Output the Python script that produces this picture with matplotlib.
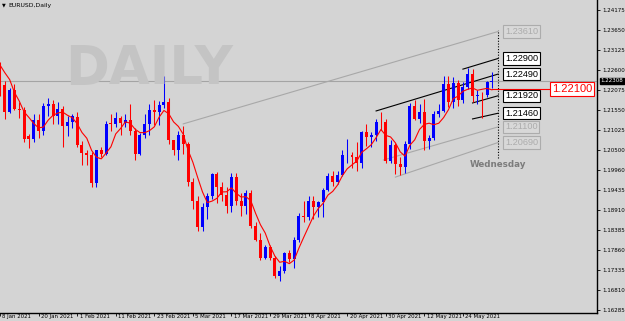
import matplotlib
matplotlib.use("Agg")
import matplotlib.pyplot as plt
from matplotlib.transforms import ScaledTranslation
import numpy as np

# ---------------- data ----------------
# bar index 0 = 8 Jan 2021 ; indices -4..-1 are 4-7 Jan (off-screen, used for the MA)
opens = [1.2246, 1.2250, 1.2297, 1.2326,
         1.2270, 1.2220, 1.2150, 1.2207, 1.2157, 1.2155, 1.2085, 1.2077, 1.2128, 1.2100,
         1.2165, 1.2170, 1.2140, 1.2158, 1.2112, 1.2123, 1.2135, 1.2062, 1.2042, 1.2036,
         1.1963, 1.2049, 1.2040, 1.2120, 1.2118, 1.2133, 1.2120, 1.2128, 1.2100, 1.2040,
         1.2088, 1.2118, 1.2155, 1.2150, 1.2168, 1.2175, 1.2075, 1.2048, 1.2090, 1.2066,
         1.1966, 1.1915, 1.1847, 1.1900, 1.1927, 1.1986, 1.1952, 1.1930, 1.1902, 1.1978,
         1.1915, 1.1903, 1.1935, 1.1850, 1.1812, 1.1765, 1.1793, 1.1765, 1.1717, 1.1730,
         1.1778, 1.1762, 1.1812, 1.1876, 1.1872, 1.1916, 1.1900, 1.1912, 1.1945, 1.1980,
         1.1965, 1.1983, 1.2035, 1.2036, 1.2032, 1.2015, 1.2097, 1.2083, 1.2090, 1.2124,
         1.2122, 1.2020, 1.2062, 1.2013, 1.2005, 1.2065, 1.2165, 1.2132, 1.2150, 1.2072,
         1.2080, 1.2145, 1.2152, 1.2224, 1.2175, 1.2225, 1.2180, 1.2215, 1.2250, 1.2192,
         1.2195, 1.2193, 1.2227]
highs = [1.2310, 1.2300, 1.2349, 1.2340,
         1.2280, 1.2230, 1.2213, 1.2222, 1.2175, 1.2162, 1.2092, 1.2145, 1.2145, 1.2172,
         1.2186, 1.2180, 1.2176, 1.2166, 1.2138, 1.2145, 1.2150, 1.2074, 1.2050, 1.2045,
         1.2050, 1.2058, 1.2125, 1.2145, 1.2150, 1.2140, 1.2145, 1.2170, 1.2108, 1.2095,
         1.2145, 1.2170, 1.2180, 1.2178, 1.2243, 1.2185, 1.2076, 1.2100, 1.2113, 1.2070,
         1.1975, 1.1928, 1.1910, 1.1935, 1.1990, 1.1991, 1.1965, 1.1952, 1.1988, 1.1990,
         1.1935, 1.1945, 1.1945, 1.1860, 1.1830, 1.1800, 1.1800, 1.1770, 1.1745, 1.1782,
         1.1785, 1.1820, 1.1883, 1.1914, 1.1928, 1.1928, 1.1915, 1.1950, 1.1990, 1.1995,
         1.1995, 1.2048, 1.2079, 1.2045, 1.2070, 1.2100, 1.2117, 1.2096, 1.2130, 1.2150,
         1.2130, 1.2076, 1.2068, 1.2030, 1.2072, 1.2173, 1.2181, 1.2170, 1.2183, 1.2090,
         1.2153, 1.2170, 1.2245, 1.2245, 1.2240, 1.2233, 1.2229, 1.2266, 1.2262, 1.2208,
         1.2203, 1.2230, 1.2254]
lows = [1.2244, 1.2231, 1.2265, 1.2250,
        1.2192, 1.2132, 1.2146, 1.2154, 1.2133, 1.2071, 1.2054, 1.2070, 1.2080, 1.2090,
        1.2140, 1.2118, 1.2118, 1.2058, 1.2085, 1.2108, 1.2058, 1.2010, 1.2010, 1.1952,
        1.1952, 1.2030, 1.2035, 1.2100, 1.2110, 1.2090, 1.2110, 1.2090, 1.2023, 1.2037,
        1.2080, 1.2090, 1.2115, 1.2115, 1.2160, 1.2065, 1.2037, 1.2024, 1.2040, 1.1955,
        1.1893, 1.1835, 1.1836, 1.1868, 1.1920, 1.1910, 1.1915, 1.1883, 1.1885, 1.1905,
        1.1875, 1.1882, 1.1845, 1.1810, 1.1761, 1.1762, 1.1760, 1.1712, 1.1704, 1.1725,
        1.1755, 1.1740, 1.1808, 1.1860, 1.1866, 1.1868, 1.1872, 1.1872, 1.1942, 1.1955,
        1.1960, 1.1980, 1.2016, 1.2001, 1.1995, 1.2003, 1.2060, 1.2056, 1.2072, 1.2102,
        1.2016, 1.2016, 1.1986, 1.1984, 1.1990, 1.2052, 1.2128, 1.2120, 1.2050, 1.2051,
        1.2076, 1.2137, 1.2150, 1.2162, 1.2161, 1.2165, 1.2173, 1.2210, 1.2175, 1.2170,
        1.2133, 1.2190, 1.2213]
closes = [1.2250, 1.2297, 1.2326, 1.2270,
          1.2220, 1.2150, 1.2207, 1.2157, 1.2155, 1.2078, 1.2077, 1.2128, 1.2100, 1.2165,
          1.2170, 1.2140, 1.2158, 1.2112, 1.2123, 1.2138, 1.2062, 1.2042, 1.2036, 1.1963,
          1.2049, 1.2040, 1.2118, 1.2118, 1.2133, 1.2120, 1.2128, 1.2100, 1.2040, 1.2088,
          1.2118, 1.2155, 1.2150, 1.2168, 1.2175, 1.2075, 1.2048, 1.2090, 1.2066, 1.1966,
          1.1915, 1.1847, 1.1900, 1.1927, 1.1986, 1.1952, 1.1930, 1.1902, 1.1978, 1.1915,
          1.1903, 1.1935, 1.1850, 1.1812, 1.1765, 1.1793, 1.1765, 1.1717, 1.1730, 1.1778,
          1.1762, 1.1812, 1.1876, 1.1872, 1.1916, 1.1900, 1.1912, 1.1945, 1.1980, 1.1965,
          1.1983, 1.2035, 1.2036, 1.2032, 1.2015, 1.2097, 1.2083, 1.2090, 1.2124, 1.2122,
          1.2020, 1.2062, 1.2013, 1.2005, 1.2065, 1.2165, 1.2132, 1.2150, 1.2072, 1.2080,
          1.2145, 1.2152, 1.2224, 1.2175, 1.2225, 1.2180, 1.2215, 1.2250, 1.2192, 1.2195,
          1.2193, 1.2227, 1.2231]
first_index = -4
ma_period = 5

date_ticks = [0, 8, 16, 24, 32, 40, 48, 56, 64, 72, 80, 88, 96]
date_labels = ["8 Jan 2021", "20 Jan 2021", "1 Feb 2021", "11 Feb 2021", "23 Feb 2021",
               "5 Mar 2021", "17 Mar 2021", "29 Mar 2021", "8 Apr 2021", "20 Apr 2021",
               "30 Apr 2021", "12 May 2021", "24 May 2021"]
price_ticks = [1.24175, 1.23650, 1.23125, 1.22600, 1.22075, 1.21550, 1.21025, 1.20500,
               1.19960, 1.19435, 1.18910, 1.18385, 1.17860, 1.17335, 1.16810, 1.16285]
current_price = 1.22308

# trend lines: start index, start price, end index, end price, colour
tl_x0 = [38, 96, 78, 98, 98, 79.5, 82]
tl_y0 = [1.2118, 1.2262, 1.2152, 1.2173, 1.2131, 1.2023, 1.1978]
tl_x1 = [103.3, 103.3, 103.3, 103.3, 103.3, 103.3, 103.3]
tl_y1 = [1.2361, 1.2290, 1.2249, 1.2192, 1.2146, 1.2110, 1.2069]
tl_dark = [False, True, True, True, True, False, False]

red_level = 1.2210
red_level_x0 = 102
future_x = 103.3
future_y0, future_y1 = 1.2028, 1.2365

# ---------------- figure ----------------
BG = "#d4d4d4"
W, H = 625, 321
fig = plt.figure(figsize=(W / 100, H / 100), dpi=100, facecolor=BG)
ax = fig.add_axes([0, 8 / H, 597 / W, 313 / H], facecolor=BG)

px_per_bar = 4.83
x_off = -1.0
ax.set_xlim((0 - x_off) / px_per_bar, (597 - x_off) / px_per_bar)
ax.set_ylim(1.16206, 1.24438)

o = np.array(opens); h = np.array(highs); l = np.array(lows); c = np.array(closes)
idx = np.arange(first_index, first_index + len(o))

# watermark
fig.text(65 / W, 1 - 84 / H, "DAILY", fontsize=38, fontweight="bold",
         family="DejaVu Sans", color="#c4c4c4", va="baseline", ha="left", zorder=0)

# current price line
ax.axhline(current_price, color="#a4a4a4", lw=0.8, zorder=1)

# trend lines and their labels
for x0, y0, x1, y1, dark in zip(tl_x0, tl_y0, tl_x1, tl_y1, tl_dark):
    col = "black" if dark else "#a8a8a8"
    ax.plot([x0, x1], [y0, y1], color=col, lw=0.8, zorder=2)
    ax.text(x1 + 1.45, y1, f"{y1:.5f}", fontsize=6.6, family="Liberation Sans",
            color=("black" if dark else "#acacac"), ha="left", va="center", zorder=6,
            bbox=dict(boxstyle="square,pad=0.18", fc=("white" if dark else "#d8d8d8"),
                      ec=("black" if dark else "#acacac"), lw=0.8))

# future dotted line
ax.vlines(future_x, future_y0, future_y1, colors="black", linestyles=(0, (1, 1.5)), lw=0.8, zorder=2)

# red level
ax.plot([red_level_x0, 113.9], [red_level, red_level], color="red", lw=0.8, zorder=2)
ax.text(114.4, red_level, f"{red_level:.5f}", fontsize=8, family="Liberation Sans", color="red",
        ha="left", va="center", zorder=6,
        bbox=dict(boxstyle="square,pad=0.18", fc="white", ec="red", lw=0.8))

# moving average
ma = np.convolve(c, np.ones(ma_period) / ma_period, mode="valid")
ax.plot(idx[ma_period - 1:], ma, color="red", lw=0.8, zorder=4)

# candles
up = c >= o
cols = np.where(up, "#0000ff", "#ff0000")
ax.vlines(idx, l, h, colors=cols, lw=0.75, zorder=3)
body_bottom = np.minimum(o, c)
body_h = np.maximum(np.abs(c - o), 0.00012)
ax.bar(idx, body_h, bottom=body_bottom, width=0.62, color=cols, edgecolor="none", zorder=3)

# Wednesday label
fig.text(498 / W, 1 - 165 / H, "Wednesday", fontsize=6.3, fontweight="bold",
         family="DejaVu Sans", color="#7c7c7c", ha="center", va="center")

# axes styling
for s in ["left", "top"]:
    ax.spines[s].set_visible(False)
ax.spines["right"].set_linewidth(1.0)
ax.spines["bottom"].set_linewidth(1.0)
ax.yaxis.tick_right()
ax.set_yticks(price_ticks)
ax.set_yticklabels([f"{p:.5f}" for p in price_ticks])
ax.tick_params(axis="y", labelsize=4.0, length=2, width=0.6, pad=1.5, colors="black")
ax.set_xticks(date_ticks)
ax.set_xticklabels(date_labels, ha="left")
ax.tick_params(axis="x", labelsize=3.9, length=2.5, width=0.6, pad=-1.6, colors="black")
for t in ax.get_yticklabels() + ax.get_xticklabels():
    t.set_family("DejaVu Sans")
shift = ScaledTranslation(2.5 / 100, 0, fig.dpi_scale_trans)
for t in ax.get_xticklabels():
    t.set_transform(t.get_transform() + shift)

# current price tag on the axis
ax.annotate(f"{current_price:.5f}", xy=(1.0, current_price), xycoords=("axes fraction", "data"),
            xytext=(2.5, 0), textcoords="offset points", fontsize=4.0, color="white",
            ha="left", va="center", family="DejaVu Sans", annotation_clip=False,
            bbox=dict(boxstyle="square,pad=0.15", fc="black", ec="black"))

# title
fig.text(1.5 / W, 1 - 5 / H, "\u25BC", fontsize=3.5, color="black", va="center", ha="left")
fig.text(8 / W, 1 - 5 / H, "EURUSD,Daily", fontsize=4.4, color="black", va="center", ha="left",
         family="DejaVu Sans")

fig.savefig("out.png", dpi=100, facecolor=BG)
